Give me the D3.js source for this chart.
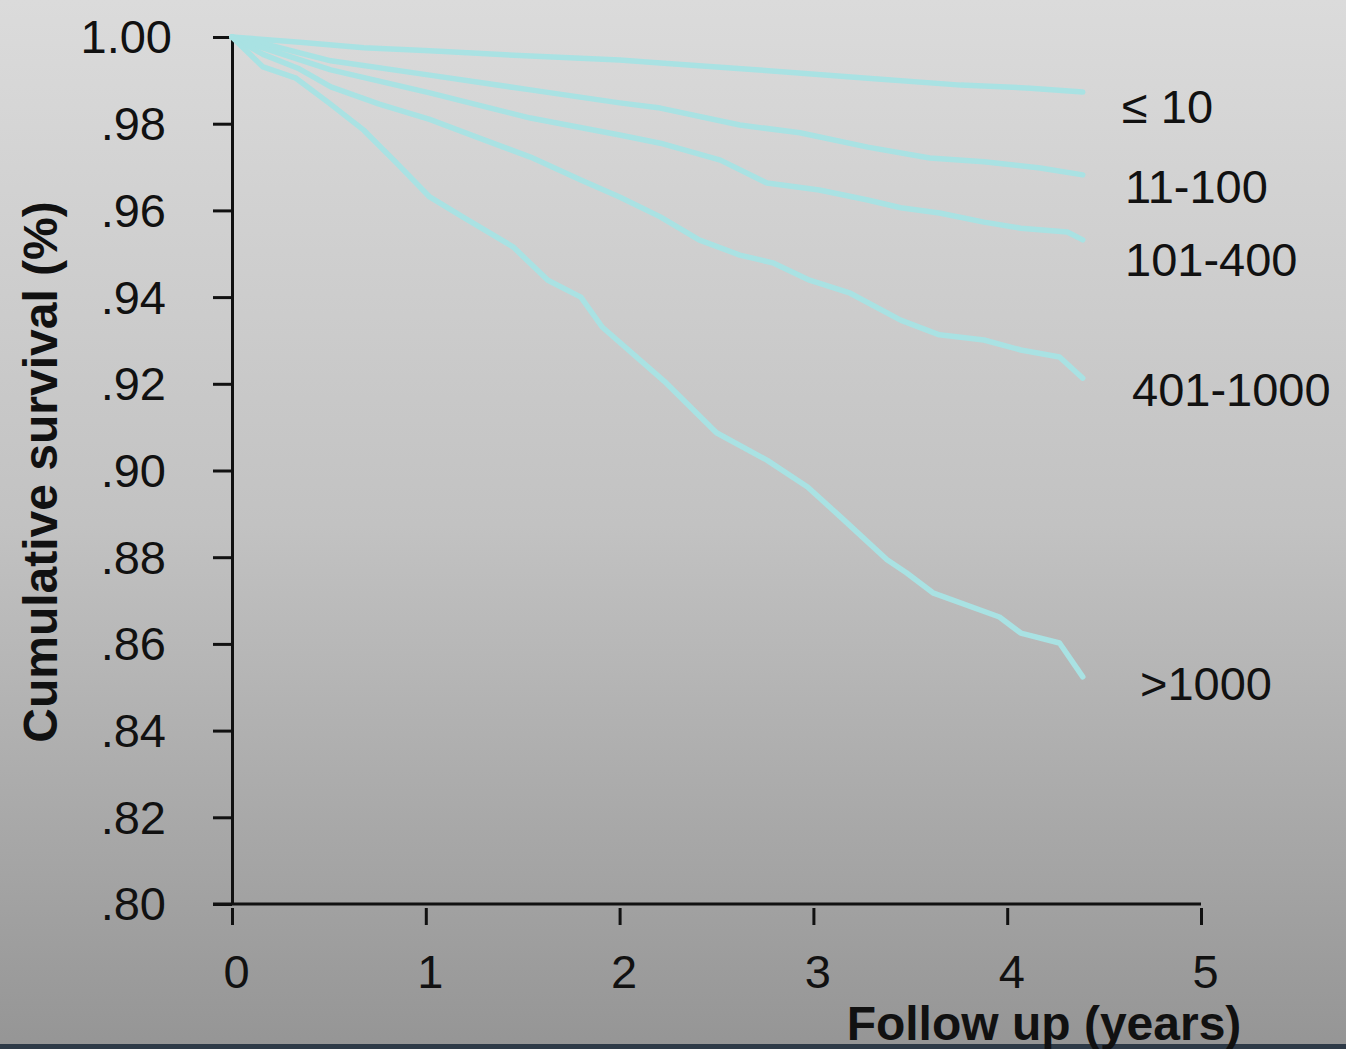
<!DOCTYPE html>
<html>
<head>
<meta charset="utf-8">
<script src="https://cdn.jsdelivr.net/npm/d3@7"></script>
<style>
  html, body { margin: 0; padding: 0; background: #999; }
  svg { display: block; }
  text { font-family: "Liberation Sans", Arial, sans-serif; fill: #111; }
</style>
</head>
<body>
<svg id="chart" width="1346" height="1049"></svg>
<script>
// ---------- data ----------
const seriesNames = ["≤ 10", "11-100", "101-400", "401-1000", ">1000"];

const years_le10 = [0, 0.35, 0.68, 1.02, 1.54, 2.0, 2.21, 2.72, 3.28, 3.76, 4.12, 4.39];
const surv_le10  = [1.0, 0.9988, 0.9975, 0.9968, 0.9956, 0.9947, 0.9940, 0.9924, 0.9905, 0.9889, 0.9882, 0.9873];

const years_11_100 = [0, 0.16, 0.51, 1.02, 1.54, 2.0, 2.21, 2.62, 2.93, 3.28, 3.60, 3.88, 4.17, 4.39];
const surv_11_100  = [1.0, 0.9985, 0.9945, 0.9912, 0.9878, 0.9848, 0.9836, 0.9797, 0.9779, 0.9746, 0.9721, 0.9712, 0.9698, 0.9682];

const years_101_400 = [0, 0.16, 0.51, 1.02, 1.54, 2.0, 2.21, 2.52, 2.76, 3.03, 3.28, 3.45, 3.65, 3.88, 4.07, 4.31, 4.39];
const surv_101_400  = [1.0, 0.9975, 0.9924, 0.9871, 0.9813, 0.9774, 0.9755, 0.9716, 0.9663, 0.9647, 0.9624, 0.9606, 0.9594, 0.9573, 0.9559, 0.9550, 0.9532];

const years_401_1000 = [0, 0.16, 0.34, 0.51, 0.76, 1.02, 1.28, 1.54, 1.80, 2.0, 2.21, 2.41, 2.62, 2.79, 2.98, 3.19, 3.45, 3.65, 3.88, 4.07, 4.27, 4.39];
const surv_401_1000  = [1.0, 0.9960, 0.9928, 0.9885, 0.9845, 0.9810, 0.9766, 0.9723, 0.9670, 0.9631, 0.9585, 0.9532, 0.9497, 0.9479, 0.9439, 0.9409, 0.9347, 0.9313, 0.9301, 0.9278, 0.9262, 0.9213];

const years_gt1000 = [0, 0.16, 0.33, 0.50, 0.68, 0.85, 1.02, 1.19, 1.45, 1.63, 1.80, 1.91, 2.24, 2.50, 2.76, 2.97, 3.14, 3.38, 3.48, 3.62, 3.96, 4.07, 4.27, 4.39];
const surv_gt1000  = [1.0, 0.9931, 0.9905, 0.9848, 0.9785, 0.9709, 0.9631, 0.9585, 0.9516, 0.9439, 0.9400, 0.9331, 0.9202, 0.9087, 0.9024, 0.8962, 0.8893, 0.8794, 0.8764, 0.8717, 0.8662, 0.8625, 0.8602, 0.8524];

const xTickValues = [0, 1, 2, 3, 4, 5];
const xTickLabels = ["0", "1", "2", "3", "4", "5"];
const yTickValues = [1.00, 0.98, 0.96, 0.94, 0.92, 0.90, 0.88, 0.86, 0.84, 0.82, 0.80];
const yTickLabels = ["1.00", ".98", ".96", ".94", ".92", ".90", ".88", ".86", ".84", ".82", ".80"];

const xTitle = "Follow up (years)";
const yTitle = "Cumulative survival (%)";

// ---------- layout ----------
const W = 1346, H = 1049;
const labelPos = [ [1122, 123], [1125, 203], [1125, 276], [1132, 406], [1140, 700] ];

const svg = d3.select("#chart");

// background gradient
const defs = svg.append("defs");
const grad = defs.append("linearGradient").attr("id", "bg").attr("x1", 0).attr("y1", 0).attr("x2", 0).attr("y2", 1);
grad.append("stop").attr("offset", "0%").attr("stop-color", "#dbdbdb");
grad.append("stop").attr("offset", "50%").attr("stop-color", "#c2c2c2");
grad.append("stop").attr("offset", "100%").attr("stop-color", "#959595");
svg.append("rect").attr("width", W).attr("height", H).attr("fill", "url(#bg)");
svg.append("rect").attr("x", 0).attr("y", 1044).attr("width", W).attr("height", 5).attr("fill", "#2e3a47");

const x = d3.scaleLinear().domain([0, 5]).range([232, 1201]);
const y = d3.scaleLinear().domain([0.80, 1.00]).range([904, 37]);

// y axis
const yAxis = d3.axisLeft(y)
  .tickValues(yTickValues)
  .tickFormat((d, i) => yTickLabels[i])
  .tickSize(19)
  .tickSizeOuter(0)
  .tickPadding(47);
const gy = svg.append("g").attr("transform", "translate(232,0)").call(yAxis);
gy.select(".domain").attr("stroke", "#111").attr("stroke-width", 3);
gy.selectAll(".tick line").attr("stroke", "#111").attr("stroke-width", 3);
gy.selectAll(".tick text")
  .style("font-size", "47px")
  .attr("fill", "#111")
  .attr("dx", (d, i) => i === 0 ? 6 : 0)
  .attr("dy", "0.34em");

// x axis line (extends left to the .80 tick)
svg.append("line")
  .attr("x1", 213).attr("x2", x(5))
  .attr("y1", y(0.80)).attr("y2", y(0.80))
  .attr("stroke", "#111").attr("stroke-width", 3);

const xAxis = d3.axisBottom(x)
  .tickValues(xTickValues)
  .tickFormat((d, i) => xTickLabels[i])
  .tickSize(17)
  .tickSizeOuter(0)
  .tickPadding(47);
const gx = svg.append("g").attr("transform", "translate(0,908)").call(xAxis);
gx.select(".domain").remove();
gx.selectAll(".tick line").attr("stroke", "#111").attr("stroke-width", 3);
gx.selectAll(".tick text")
  .style("font-size", "47px")
  .attr("fill", "#111")
  .attr("dx", 4)
  .attr("dy", "0.35em");

// curves
const series = [
  years_le10.map((t, i) => [t, surv_le10[i]]),
  years_11_100.map((t, i) => [t, surv_11_100[i]]),
  years_101_400.map((t, i) => [t, surv_101_400[i]]),
  years_401_1000.map((t, i) => [t, surv_401_1000[i]]),
  years_gt1000.map((t, i) => [t, surv_gt1000[i]])
];
const line = d3.line().x(d => x(d[0])).y(d => y(d[1])).curve(d3.curveLinear);
svg.append("g").selectAll("path").data(series).join("path")
  .attr("d", line)
  .attr("fill", "none")
  .attr("stroke", "#a9e2e3")
  .attr("stroke-width", 5.5)
  .attr("stroke-linejoin", "round")
  .attr("stroke-linecap", "round");

// series labels
svg.append("g").selectAll("text").data(seriesNames).join("text")
  .attr("x", (d, i) => labelPos[i][0])
  .attr("y", (d, i) => labelPos[i][1])
  .style("font-size", "47px")
  .text(d => d);

// axis titles
svg.append("text")
  .attr("transform", "translate(57,472) rotate(-90)")
  .attr("text-anchor", "middle")
  .style("font-size", "48px")
  .style("font-weight", "bold")
  .text(yTitle);

svg.append("text")
  .attr("x", 1044).attr("y", 1040)
  .attr("text-anchor", "middle")
  .style("font-size", "48px")
  .style("font-weight", "bold")
  .text(xTitle);
</script>
</body>
</html>
